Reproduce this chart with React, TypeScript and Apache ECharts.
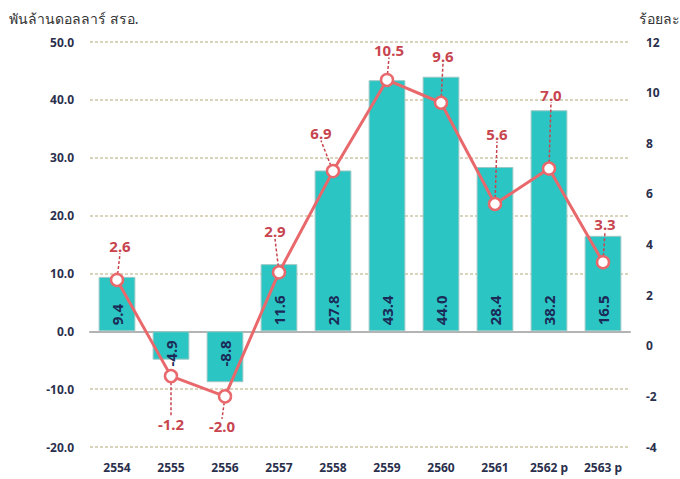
import React, { useEffect, useRef } from "react";
import * as echarts from "echarts";

const categories = ["2554", "2555", "2556", "2557", "2558", "2559", "2560", "2561", "2562 p", "2563 p"];
const barValues = [9.4, -4.9, -8.8, 11.6, 27.8, 43.4, 44.0, 28.4, 38.2, 16.5];
const lineValues = [2.6, -1.2, -2.0, 2.9, 6.9, 10.5, 9.6, 5.6, 7.0, 3.3];
const leftTicks = { min: -20, max: 50, interval: 10 };
const rightTicks = { min: -4, max: 12, interval: 2 };
const leftTitle = "พันล้านดอลลาร์ สรอ.";
const rightTitle = "ร้อยละ";

// label offsets (dx, dy) for the line labels
const labelOffsets: [number, number][] = [
  [3, -34], [0, 48], [-3, 30], [-4, -41], [-12, -38],
  [2, -30], [2, -47], [2, -70], [2, -74], [2, -38],
];

const FONT = "'Noto Sans', 'DejaVu Sans', sans-serif";
const NAVY = "#2a2f4d";

export default function App() {
  const ref = useRef<HTMLDivElement>(null);
  useEffect(() => {
    if (!ref.current) return;
    const chart = echarts.init(ref.current, null, { renderer: "svg" });
    chart.setOption({
      animation: false,
      textStyle: { fontFamily: FONT },
      title: [
        { text: leftTitle, left: 4, top: 6, textStyle: { fontSize: 14, fontWeight: "normal", color: "#333", fontFamily: FONT } },
        { text: rightTitle, left: 634, top: 6, textStyle: { fontSize: 14, fontWeight: "normal", color: "#333", fontFamily: FONT } },
      ],
      grid: { left: 90, right: 50, top: 42, bottom: 32 },
      xAxis: {
        type: "category",
        data: categories,
        axisTick: { show: false },
        axisLine: { onZero: true, onZeroAxisIndex: 0, lineStyle: { color: "#b3b3b3", width: 2 } },
        axisLabel: { color: NAVY, fontWeight: "bold", fontSize: 12, margin: 14, fontFamily: FONT },
        position: "bottom",
      },
      yAxis: [
        {
          type: "value",
          min: leftTicks.min, max: leftTicks.max, interval: leftTicks.interval,
          axisLine: { show: false }, axisTick: { show: false },
          axisLabel: { color: NAVY, fontWeight: "bold", fontSize: 12, margin: 16, formatter: (v: number) => v.toFixed(1) },
          splitLine: { lineStyle: { color: "#cdc7a6", type: [3, 2], width: 1.5 } },
        },
        {
          type: "value",
          min: rightTicks.min, max: rightTicks.max, interval: rightTicks.interval,
          axisLine: { show: false }, axisTick: { show: false },
          axisLabel: { color: NAVY, fontWeight: "bold", fontSize: 12, margin: 16 },
          splitLine: { show: false },
        },
      ],
      series: [
        {
          type: "bar",
          yAxisIndex: 0,
          barWidth: "68%",
          data: barValues.map((v) => ({
            value: v,
            label: v >= 0
              ? { position: "insideBottom", align: "left", distance: 6 }
              : { position: "insideTop", align: "right", distance: 9 },
          })),
          itemStyle: { color: "#2bc6c3", borderColor: "#9cc7c4", borderWidth: 1 },
          label: {
            show: true,
            rotate: 90,
            verticalAlign: "middle",
            color: "#1c2a58",
            fontWeight: "bold",
            fontSize: 15,
            formatter: (p: any) => p.value.toFixed(1),
          },
          z: 2,
        },
        {
          type: "line",
          yAxisIndex: 1,
          data: lineValues,
          lineStyle: { color: "#e8686c", width: 3 },
          symbol: "circle",
          symbolSize: 12,
          itemStyle: { color: "#ffffff", borderColor: "#e8686c", borderWidth: 2.5 },
          label: {
            show: true,
            position: "inside",
            color: "#c8454f",
            fontWeight: "bold",
            fontSize: 15,
            formatter: (p: any) => p.value.toFixed(1),
          },
          labelLayout: (params: any) => {
            const o = labelOffsets[params.dataIndex];
            return { dx: o[0], dy: o[1] };
          },
          labelLine: {
            show: true,
            length2: 0,
            lineStyle: { color: "#c8454f", type: [3, 2], width: 1.5 },
          },
          z: 5,
        },
      ],
    });
    return () => chart.dispose();
  }, []);
  return <div ref={ref} style={{ width: 680, height: 479, position: "absolute", left: 0, top: 0 }} />;
}
